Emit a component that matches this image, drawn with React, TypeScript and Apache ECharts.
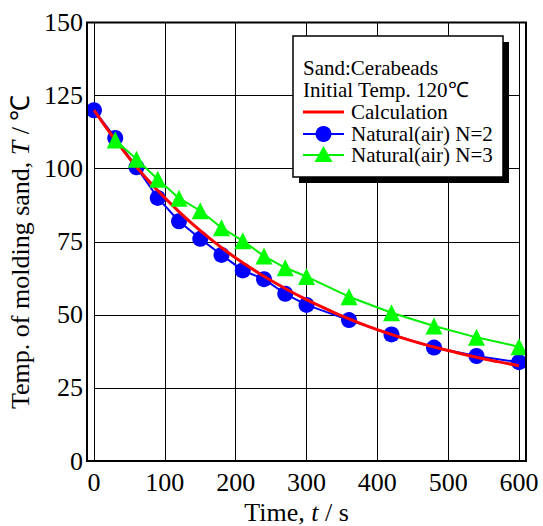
import React, { useEffect, useRef } from "react";
import * as echarts from "echarts";

const calcTime = [0, 30, 60, 90, 120, 150, 180, 210, 240, 270, 300, 330, 360, 390, 420, 450, 480, 510, 540, 570, 600];
const calcTemp = [120, 109.8, 100.6, 92.5, 85.3, 78.8, 73.0, 67.8, 63.2, 59.0, 55.2, 51.8, 48.6, 45.8, 43.3, 41.0, 39.0, 37.2, 35.5, 34.0, 32.6];

const n2Time = [0, 30, 60, 90, 120, 150, 180, 210, 240, 270, 300, 360, 420, 480, 540, 600];
const n2Temp = [120, 110.5, 100.5, 90, 82, 76, 70.5, 65.2, 62.2, 57.2, 53.4, 48.2, 43.3, 38.8, 35.9, 33.8];

const n3Time = [30, 60, 90, 120, 150, 180, 210, 240, 270, 300, 360, 420, 480, 540, 600];
const n3Temp = [109.8, 103.2, 96.4, 89.9, 85.6, 79.8, 75.3, 70.1, 66.1, 63.1, 56.2, 50.7, 46.2, 42.3, 39.1];

const seriesNames = ["Calculation", "Natural(air) N=2", "Natural(air) N=3"];
const legendHeader = ["Sand:Cerabeads", "Initial Temp. 120\u2103"];

const FONT = "'Liberation Serif', 'Times New Roman', serif";

export default function App() {
  const ref = useRef<HTMLDivElement>(null);
  useEffect(() => {
    document.body.style.margin = "0";
    const chart = echarts.init(ref.current!, null, { renderer: "svg" });
    const zip = (a: number[], b: number[]) => a.map((v, i) => [v, b[i]]);
    const lx = 303;
    const rows = [112, 134, 155];
    const fs = 21;
    const mkTitle = (text: string, left: number, cy: number) => ({
      text: `{a|${text}}`,
      left,
      top: cy - 9,
      padding: 0,
      z: 30,
      textStyle: {
        fontFamily: FONT,
        fontSize: fs,
        fontWeight: "normal",
        color: "#000",
        rich: { a: { fontFamily: FONT, fontSize: fs, color: "#000", lineHeight: 18 } },
      },
    });
    chart.setOption({
      animation: false,
      backgroundColor: "#fff",
      textStyle: { fontFamily: FONT },
      title: [
        mkTitle(legendHeader[0], lx, 68),
        mkTitle(legendHeader[1], lx, 90),
        ...seriesNames.map((n, i) => mkTitle(n, 351, rows[i])),
      ],
      grid: { left: 94, right: 24, top: 22.5, bottom: 65, containLabel: false, outerBoundsMode: "none" },
      xAxis: {
        type: "value",
        min: 0,
        max: 600,
        interval: 100,
        axisLine: { show: false },
        axisTick: { show: false },
        axisLabel: { color: "#000", fontSize: 26, fontFamily: FONT, margin: 8 },
        splitLine: { show: true, lineStyle: { color: "#000", width: 1 } },
        name: "{n|Time, }{i|t}{n| / s}",
        nameLocation: "middle",
        nameGap: 33,
        nameTextStyle: {
          padding: [0, 20, 0, 0],
          rich: {
            n: { fontSize: 26, fontFamily: FONT, color: "#000" },
            i: { fontSize: 26, fontFamily: FONT, fontStyle: "italic", color: "#000" },
          },
        },
      },
      yAxis: {
        type: "value",
        min: 0,
        max: 150,
        interval: 25,
        axisLine: { show: false },
        axisTick: { show: false },
        axisLabel: { color: "#000", fontSize: 26, fontFamily: FONT, margin: 11 },
        splitLine: { show: true, lineStyle: { color: "#000", width: 1 } },
        name: "{n|Temp. of molding sand, }{i|T}{n| / \u2103}",
        nameLocation: "middle",
        nameGap: 56,
        nameTextStyle: {
          padding: [0, 20, 0, 0],
          rich: {
            n: { fontSize: 26, fontFamily: FONT, color: "#000" },
            i: { fontSize: 26, fontFamily: FONT, fontStyle: "italic", color: "#000" },
          },
        },
      },
      series: [
        {
          name: seriesNames[0],
          type: "line",
          data: zip(calcTime, calcTemp),
          smooth: true,
          showSymbol: false,
          symbol: "none",
          lineStyle: { color: "#ff0000", width: 3 },
          z: 3,
        },
        {
          name: seriesNames[1],
          type: "line",
          data: zip(n2Time, n2Temp),
          symbol: "circle",
          symbolSize: 16,
          itemStyle: { color: "#0000ff" },
          lineStyle: { color: "#0000ff", width: 2 },
          z: 2,
        },
        {
          name: seriesNames[2],
          type: "line",
          data: zip(n3Time, n3Temp),
          symbol: "triangle",
          symbolSize: 17,
          itemStyle: { color: "#00ff00" },
          lineStyle: { color: "#00ee00", width: 2 },
          z: 4,
        },
      ],
      graphic: [
        {
          type: "rect",
          shape: { x: 87, y: 22.5, width: 439, height: 438.5 },
          style: { fill: "none", stroke: "#000", lineWidth: 2 },
          z: 10,
        },
        {
          type: "rect",
          shape: { x: 299, y: 42, width: 210, height: 141 },
          style: { fill: "#000" },
          z: 20,
        },
        {
          type: "rect",
          shape: { x: 293, y: 36, width: 210, height: 141 },
          style: { fill: "#fff", stroke: "#000", lineWidth: 1.5 },
          z: 21,
        },
        { type: "line", shape: { x1: lx, y1: rows[0], x2: 344, y2: rows[0] }, style: { stroke: "#ff0000", lineWidth: 3 }, z: 22 },
        { type: "line", shape: { x1: lx, y1: rows[1], x2: 344, y2: rows[1] }, style: { stroke: "#0000ff", lineWidth: 2 }, z: 22 },
        { type: "circle", shape: { cx: 323.5, cy: rows[1], r: 8 }, style: { fill: "#0000ff" }, z: 23 },
        { type: "line", shape: { x1: lx, y1: rows[2], x2: 344, y2: rows[2] }, style: { stroke: "#00ee00", lineWidth: 2 }, z: 22 },
        {
          type: "polygon",
          shape: { points: [[323.5, rows[2] - 9], [332.5, rows[2] + 7], [314.5, rows[2] + 7]] },
          style: { fill: "#00ff00" },
          z: 23,
        },
      ],
    });
    return () => chart.dispose();
  }, []);
  return <div ref={ref} style={{ width: 543, height: 526 }} />;
}
